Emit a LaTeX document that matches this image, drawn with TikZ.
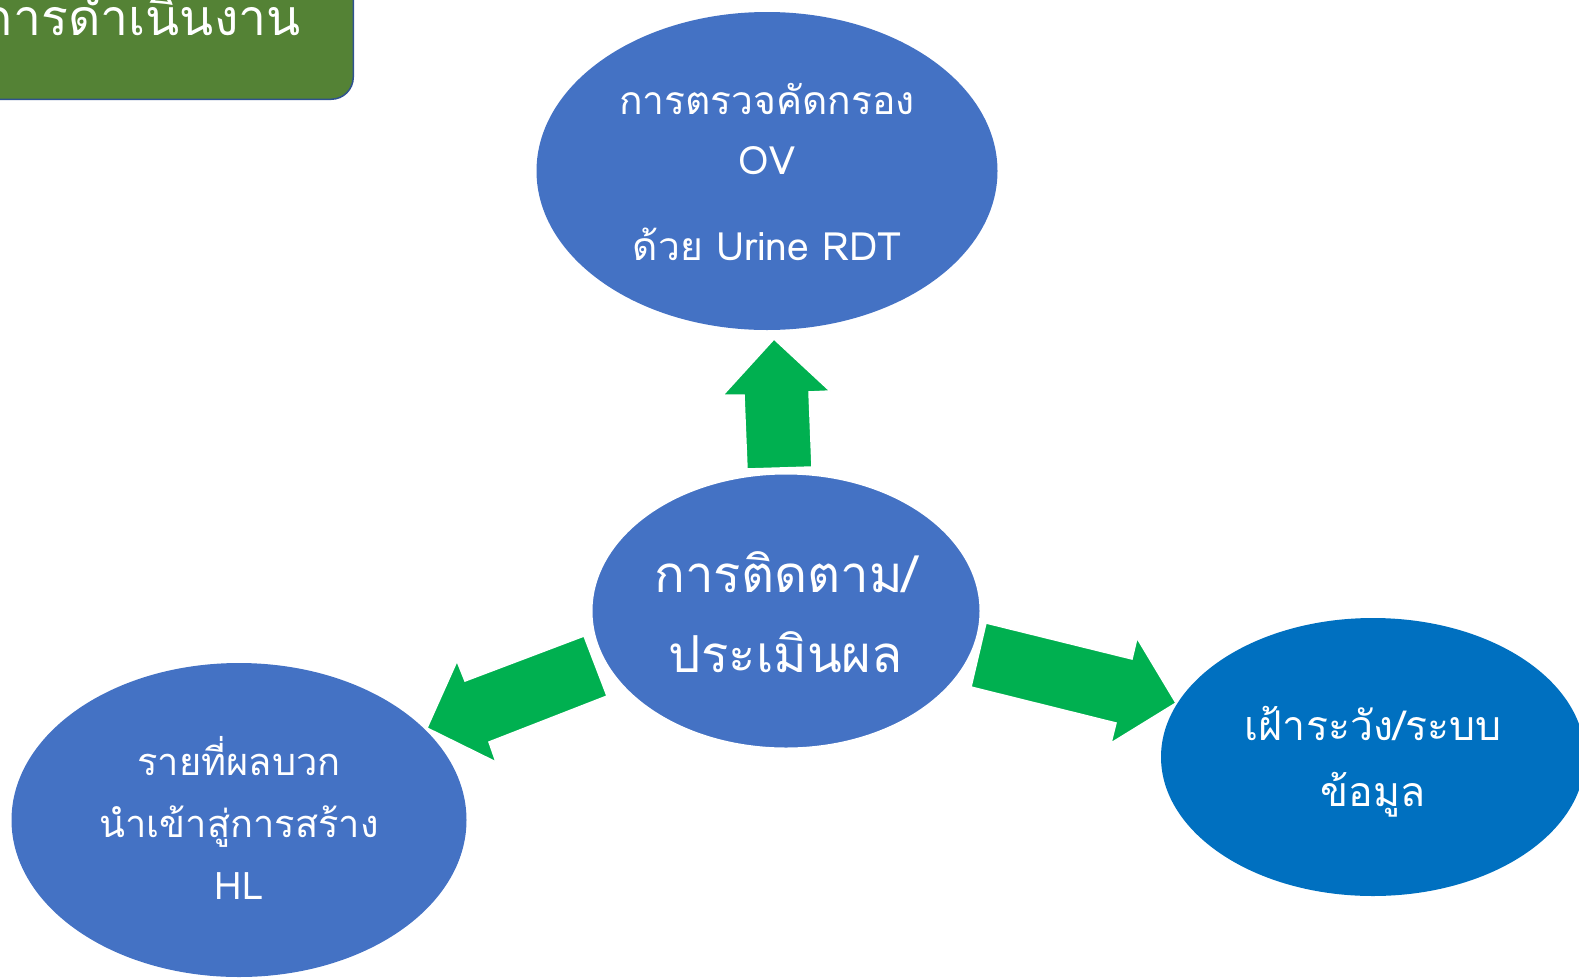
\documentclass[tikz,border=0pt]{standalone}
\usepackage{fontspec}
\newfontfamily\thai[Script=Thai]{Loma}
\usetikzlibrary{shapes.geometric}
\definecolor{eblue}{HTML}{4472C4}
\definecolor{dblue}{HTML}{0070C0}
\definecolor{agreen}{HTML}{00B050}
\definecolor{tgreen}{HTML}{548235}
\definecolor{tborder}{HTML}{2F528F}
\begin{document}
\begin{tikzpicture}[x=1pt,y=-1pt,
  bubble/.style={ellipse, fill=eblue, inner sep=0pt},
  lbl/.style={text=white, align=center, inner sep=0pt},
  blockarrow/.style={fill=agreen, draw=white, line width=1.5pt, line join=miter}]
\useasboundingbox (0,0) rectangle (1579,978);
\clip (0,0) rectangle (1579,978);
% title box
\node[draw=tborder, fill=tgreen, line width=1.5pt, rounded corners=22pt,
      minimum width=420pt, minimum height=150pt, anchor=south east] (title) at (354,100) {};
\node[lbl, anchor=base east, font=\thai\fontsize{50}{60}\selectfont] (titletext) at (301,35) {การดำเนินงาน};
% outer ellipses
\node[bubble, minimum width=461pt, minimum height=318pt] (top) at (767,171) {};
\node[bubble, minimum width=455pt, minimum height=314pt] (left) at (239,820) {};
\node[bubble, fill=dblue, minimum width=424pt, minimum height=278pt] (right) at (1373,757) {};
% block arrows
\draw[blockarrow] (774,339) -- (830,391) -- (809,392) -- (812,467) -- (747,469) -- (744,395) -- (723,395) -- cycle;
\draw[blockarrow] (427,728) -- (457,661) -- (465,681) -- (584,636) -- (607,696) -- (489,742) -- (496,762) -- cycle;
\draw[blockarrow] (1176,703) -- (1111,743) -- (1116,723) -- (971,687) -- (986,623) -- (1132,659) -- (1137,638) -- cycle;
% centre ellipse
\node[bubble, minimum width=390pt, minimum height=276pt, draw=white, line width=3pt] (mid) at (786,611) {};
% texts
\node[lbl, font=\thai\fontsize{39}{60}\selectfont] (toptext) at (767,172)
  {การตรวจคัดกรอง\\OV\\[26pt]ด้วย Urine RDT};
\node[lbl, font=\thai\fontsize{51}{80}\selectfont] (midtext) at (786,612)
  {การติดตาม/\\ประเมินผล};
\node[lbl, font=\thai\fontsize{38}{62}\selectfont] (lefttext) at (239,818)
  {รายที่ผลบวก\\นำเข้าสู่การสร้าง\\HL};
\node[lbl, font=\thai\fontsize{41}{66}\selectfont] (righttext) at (1373,762)
  {เฝ้าระวัง/ระบบ\\ข้อมูล};
\end{tikzpicture}
\end{document}
